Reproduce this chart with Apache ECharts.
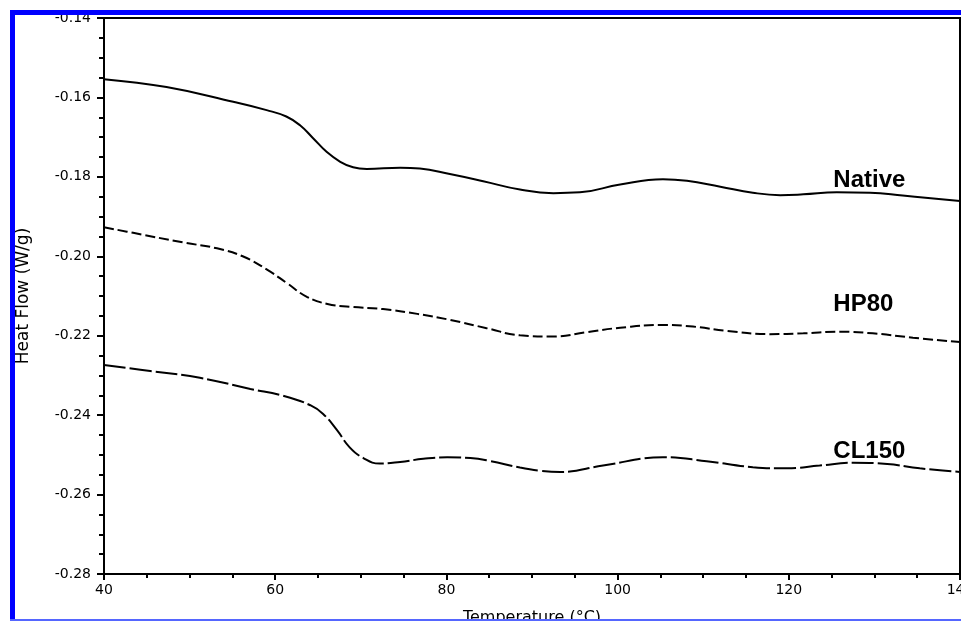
<!DOCTYPE html>
<html>
<head>
<meta charset="utf-8">
<script src="https://cdn.jsdelivr.net/npm/echarts@6/dist/echarts.min.js"></script>
<style>
  html, body { margin: 0; padding: 0; background: #fff; }
  #chart { width: 961px; height: 621px; }
</style>
</head>
<body>
<div id="chart"></div>
<script>
// ---- Data ----
const xTicks = [40, 60, 80, 100, 120, 140];
const yTicks = [-0.28, -0.26, -0.24, -0.22, -0.20, -0.18, -0.16, -0.14];

const nativeT = [40, 47.3, 55.1, 59.0, 61.3, 62.9, 64.4, 66.0, 67.6, 69.1, 70.7, 74.6, 76.9, 80.4, 84.3, 88.6, 92.5, 95.6, 100.3, 105.3, 108.1, 112.0, 115.8, 119.0, 121.7, 125.6, 129.5, 133.3, 140];
const nativeV = [-0.1554, -0.1574, -0.1611, -0.1632, -0.1648, -0.1670, -0.1702, -0.1737, -0.1762, -0.1776, -0.1780, -0.1777, -0.1779, -0.1793, -0.1811, -0.1832, -0.1841, -0.1839, -0.1819, -0.1806, -0.1810, -0.1825, -0.1840, -0.1846, -0.1844, -0.1839, -0.1840, -0.1847, -0.1861];

const hp80T = [40, 43.4, 49.2, 53.2, 56.2, 59.0, 61.4, 63.7, 66.1, 68.7, 72.6, 76.6, 80.4, 84.7, 88.6, 92.5, 96.4, 100.3, 105.3, 108.8, 112.8, 117.8, 121.7, 126.0, 129.8, 134.5, 140];
const hp80V = [-0.1927, -0.1941, -0.1965, -0.1980, -0.2000, -0.2033, -0.2068, -0.2102, -0.2120, -0.2127, -0.2133, -0.2145, -0.2160, -0.2181, -0.2199, -0.2202, -0.2191, -0.2180, -0.2173, -0.2177, -0.2188, -0.2196, -0.2194, -0.2190, -0.2194, -0.2205, -0.2216];

const cl150T = [40, 45.4, 51.2, 57.1, 60.9, 64.1, 65.6, 67.2, 68.7, 70.3, 72.2, 74.6, 77.3, 80.1, 82.8, 85.0, 88.6, 91.0, 93.3, 98.3, 105.3, 110.4, 115.8, 119.8, 123.6, 127.5, 131.5, 135.3, 140];
const cl150V = [-0.2274, -0.2289, -0.2306, -0.2334, -0.2351, -0.2375, -0.2397, -0.2437, -0.2481, -0.2508, -0.2522, -0.2518, -0.2510, -0.2506, -0.2508, -0.2515, -0.2532, -0.2540, -0.2543, -0.2527, -0.2506, -0.2516, -0.2531, -0.2534, -0.2527, -0.2520, -0.2523, -0.2534, -0.2543];

const seriesNames = ['Native', 'HP80', 'CL150'];

function pairs(t, v) { return t.map((x, i) => [x, v[i]]); }

const chart = echarts.init(document.getElementById('chart'), null, { renderer: 'canvas' });

const tickFont = { fontFamily: 'DejaVu Sans', fontSize: 14, color: '#000' };
const labelStyle = { show: true, position: 'right', distance: 0, color: '#000',
  fontFamily: 'Liberation Sans', fontWeight: 'bold', fontSize: 24 };

function annot(name, coord) {
  return {
    symbol: 'circle', symbolSize: 0, silent: true,
    label: Object.assign({ formatter: name }, labelStyle),
    data: [{ coord: coord }]
  };
}

const lineCommon = { type: 'line', smooth: 0.45, smoothConstraint: false, showSymbol: false };

const option = {
  backgroundColor: '#fff',
  animation: false,
  grid: { left: 104, right: 1, top: 18, bottom: 47, show: true, borderColor: '#000', borderWidth: 2,
          containLabel: false, outerBoundsMode: 'none' },
  xAxis: {
    type: 'value', min: xTicks[0], max: xTicks[xTicks.length - 1], interval: 20,
    name: 'Temperature (°C)', nameLocation: 'middle', nameGap: 36,
    nameTextStyle: { fontFamily: 'DejaVu Sans', fontSize: 16, color: '#000' },
    axisLine: { show: true, lineStyle: { color: '#000', width: 2 } },
    axisTick: { show: true, length: 6, lineStyle: { color: '#000', width: 2 } },
    minorTick: { show: true, splitNumber: 4, length: 4, lineStyle: { color: '#000', width: 2 } },
    axisLabel: Object.assign({ margin: 9, showMaxLabel: true, showMinLabel: true, hideOverlap: false }, tickFont),
    splitLine: { show: false }
  },
  yAxis: {
    type: 'value', min: yTicks[0], max: yTicks[yTicks.length - 1], interval: 0.02,
    name: 'Heat Flow (W/g)', nameLocation: 'middle', nameGap: 72, nameRotate: 90,
    nameTextStyle: { fontFamily: 'DejaVu Sans', fontSize: 17, color: '#000' },
    axisLine: { show: true, lineStyle: { color: '#000', width: 2 } },
    axisTick: { show: true, length: 7, lineStyle: { color: '#000', width: 2 } },
    minorTick: { show: true, splitNumber: 4, length: 5, lineStyle: { color: '#000', width: 2 } },
    axisLabel: Object.assign({ margin: 13, formatter: v => v.toFixed(2) }, tickFont),
    splitLine: { show: false }
  },
  series: [
    Object.assign({}, lineCommon, {
      name: seriesNames[0], data: pairs(nativeT, nativeV),
      lineStyle: { color: '#000', width: 2, type: 'solid' },
      markPoint: annot(seriesNames[0], [125.2, -0.1810])
    }),
    Object.assign({}, lineCommon, {
      name: seriesNames[1], data: pairs(hp80T, hp80V),
      lineStyle: { color: '#000', width: 2, type: [10, 4] },
      markPoint: annot(seriesNames[1], [125.2, -0.2120])
    }),
    Object.assign({}, lineCommon, {
      name: seriesNames[2], data: pairs(cl150T, cl150V),
      lineStyle: { color: '#000', width: 2, type: [22, 4] },
      markPoint: annot(seriesNames[2], [125.2, -0.2491])
    })
  ],
  graphic: [
    { type: 'rect', z: 100, silent: true, shape: { x: 10, y: 10, width: 951, height: 5 }, style: { fill: '#0000ff' } },
    { type: 'rect', z: 100, silent: true, shape: { x: 10, y: 10, width: 5, height: 611 }, style: { fill: '#0000ff' } },
    { type: 'rect', z: 100, silent: true, shape: { x: 10, y: 619, width: 951, height: 2 }, style: { fill: '#5566ff' } }
  ]
};

chart.setOption(option);
</script>
</body>
</html>
